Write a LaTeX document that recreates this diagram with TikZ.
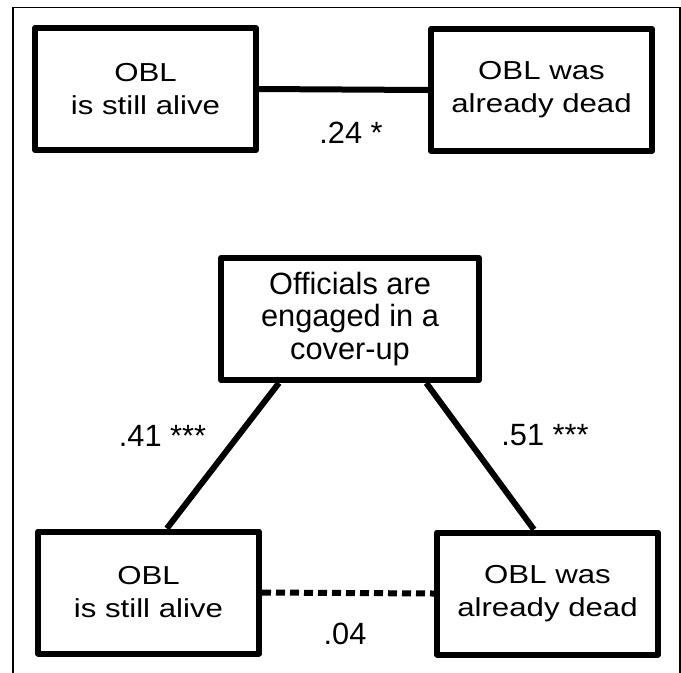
\documentclass[tikz,border=0pt]{standalone}
\usepackage{fontspec}
\setmainfont{Liberation Sans}
\newfontfamily\widesans[FakeStretch=1.2]{Liberation Sans}
\usetikzlibrary{positioning}

\begin{document}
\begin{tikzpicture}[
  obox/.style={draw, line width=0.12cm, line join=round, minimum width=4.42cm, minimum height=2.44cm, align=center, inner sep=2pt, font=\widesans\fontsize{14.8}{18.8}\selectfont},
  link/.style={line width=0.12cm},
  coef/.style={font=\fontsize{17.5}{20}\selectfont, inner sep=1pt}
]
  \useasboundingbox (0,0) rectangle (13.62,-13.44);

  % Frame
  \draw[line width=0.03cm] (0.264,-13.6) -- (0.264,-0.15) -- (13.6,-0.15) -- (13.6,-13.6);

  % Top pair
  \node[obox] (alive1) at (2.91,-1.78) {OBL\\is still alive};
  \node[obox] (dead1) at (10.83,-1.80) {OBL was\\already dead};
  \draw[link] (alive1.east) -- (dead1.west);
  \node[coef] (r1) at (7.02,-2.66) {.24 *};

  % Cover-up triangle
  \node[obox, minimum width=5.16cm, font=\fontsize{17.5}{18.5}\selectfont] (cover) at (7.0,-6.38) {Officials are\\engaged in a\\cover-up};
  \node[obox] (alive2) at (2.97,-11.85) {OBL\\is still alive};
  \node[obox] (dead2) at (10.95,-11.87) {OBL was\\already dead};

  \draw[link] (cover.222) -- (alive2.74);
  \draw[link] (cover.320) -- (dead2.102);
  \draw[link, dash pattern=on 0.18cm off 0.1cm] (alive2.east) -- (dead2.west);

  \node[coef] (r2) at (3.25,-8.72) {.41 ***};
  \node[coef] (r3) at (10.9,-8.70) {.51 ***};
  \node[coef] (r4) at (6.9,-12.68) {.04};
\end{tikzpicture}
\end{document}
